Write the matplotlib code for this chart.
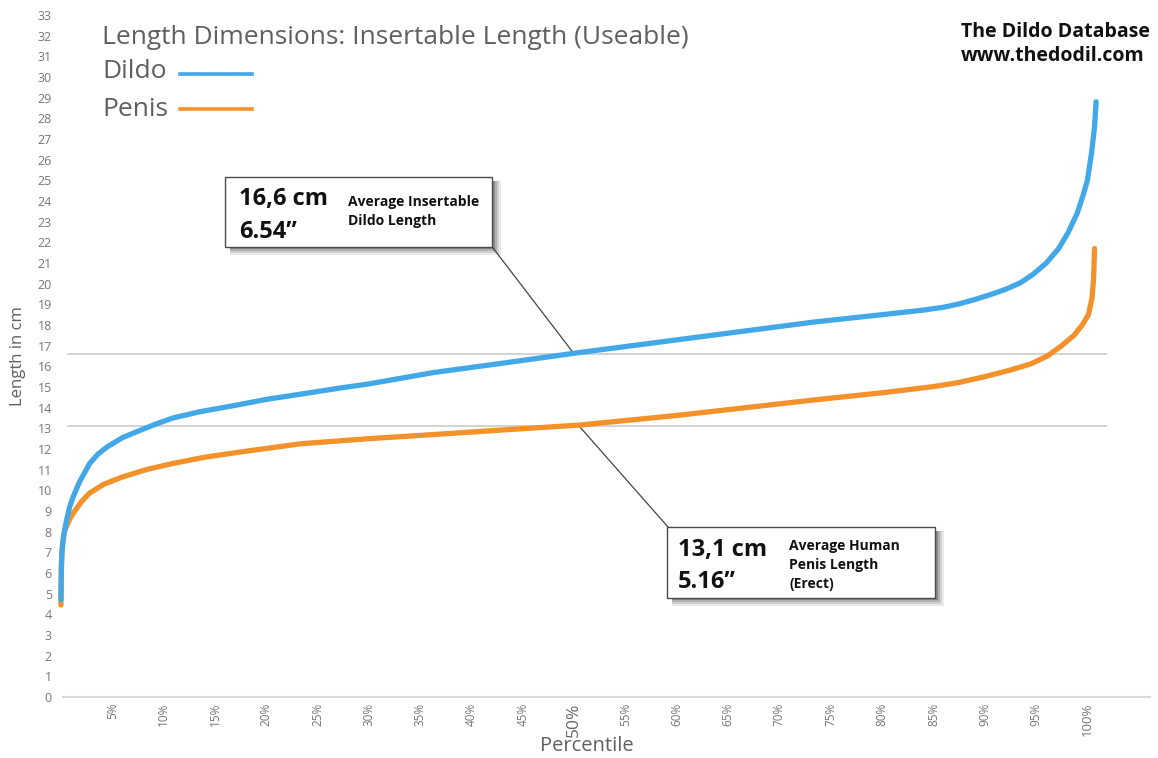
import matplotlib.pyplot as plt
from matplotlib.patches import Rectangle

plt.rcParams['font.family'] = ['Open Sans', 'DejaVu Sans']

# --- data (percentile, length in cm) ---
dildo_pct = [0.0, 0.02, 0.05, 0.1, 0.25, 0.55, 0.85, 1.2, 1.8, 2.8, 3.6, 4.5, 6.0,
             7.7, 9.2, 10.9, 13.5, 17.4, 20.0, 23.3, 27.2, 30.0, 36.3, 43.0, 50.1,
             60.3, 73.3, 80.0, 84.0, 86.0, 87.5, 89.0, 90.5, 92.0, 93.5, 94.7, 96.0,
             97.2, 98.1, 99.0, 99.6, 100.0, 100.4, 100.7, 100.85]
dildo_len = [4.7, 5.5, 6.3, 7.0, 7.8, 8.56, 9.2, 9.7, 10.4, 11.3, 11.75, 12.1, 12.55,
             12.9, 13.2, 13.5, 13.8, 14.15, 14.4, 14.65, 14.95, 15.15, 15.7, 16.15, 16.64,
             17.3, 18.14, 18.5, 18.72, 18.86, 19.02, 19.23, 19.46, 19.72, 20.05, 20.45, 21.0,
             21.7, 22.45, 23.4, 24.3, 25.0, 26.3, 27.6, 28.8]

penis_pct = [0.0, 0.02, 0.05, 0.15, 0.4, 0.8, 1.2, 2.0, 2.8, 4.2, 6.0, 8.3, 10.9,
             14.0, 17.4, 23.3, 30.0, 36.3, 43.0, 50.6, 60.3, 73.3, 80.0, 85.0, 87.5,
             90.0, 92.5, 94.5, 96.1, 97.5, 98.7, 99.5, 100.1, 100.45, 100.6, 100.7]
penis_len = [4.45, 5.6, 6.6, 7.4, 8.1, 8.55, 8.9, 9.45, 9.87, 10.3, 10.65, 11.0, 11.3,
             11.6, 11.85, 12.25, 12.5, 12.7, 12.92, 13.16, 13.64, 14.37, 14.72, 15.02, 15.22,
             15.5, 15.82, 16.12, 16.5, 17.0, 17.5, 18.0, 18.5, 19.3, 20.2, 21.7]

avg_dildo = 16.6
avg_penis = 13.1
x_ticks = list(range(5, 101, 5))
x_labels = [f"{t}%" for t in x_ticks]
y_ticks = list(range(0, 34))

BLUE = '#42a8e8'
ORANGE = '#f3922a'
GREY_TXT = '#5f5f5f'
TICK_TXT = '#767676'

W, H = 1158, 758


def fx(px):
    return px / W


def fy(py):
    return 1 - py / H


fig = plt.figure(figsize=(W / 100, H / 100), dpi=100)
fig.patch.set_facecolor('white')
ax = fig.add_axes([fx(63), fy(697), (1150 - 63) / W, (697 - 15) / H])
ax.set_xlim(0.2, 106.1)
ax.set_ylim(0, 33)

# reference lines for averages
ax.plot([0.7, 101.8], [avg_dildo, avg_dildo], color='#cfcfcf', lw=1.3, zorder=1)
ax.plot([0.7, 101.8], [avg_penis, avg_penis], color='#cfcfcf', lw=1.3, zorder=1)

ax.plot(penis_pct, penis_len, color=ORANGE, lw=3.8, solid_capstyle='round',
        solid_joinstyle='round', clip_on=False, zorder=3)
ax.plot(dildo_pct, dildo_len, color=BLUE, lw=3.8, solid_capstyle='round',
        solid_joinstyle='round', clip_on=False, zorder=4)

for s in ['left', 'top', 'right']:
    ax.spines[s].set_visible(False)
ax.spines['bottom'].set_color('#d9d9d9')
ax.spines['bottom'].set_linewidth(1.5)

ax.set_yticks(y_ticks)
ax.set_yticklabels([str(v) for v in y_ticks])
ax.tick_params(axis='y', length=0, pad=8, labelsize=9, labelcolor=TICK_TXT)
ax.set_xticks(x_ticks)
ax.set_xticklabels(x_labels, rotation=90)
ax.tick_params(axis='x', length=0, pad=4, labelsize=8.5, labelcolor=TICK_TXT)
for lab in ax.get_xticklabels():
    if lab.get_text() == '50%':
        lab.set_fontsize(12.5)
        lab.set_color('#666666')
    elif lab.get_text() == '100%':
        lab.set_fontsize(9.5)

fig.text(fx(587), fy(746), 'Percentile', fontsize=14.5, color=GREY_TXT,
         ha='center', va='center')
fig.text(fx(18), fy(356), 'Length in cm', fontsize=12, color=GREY_TXT,
         ha='center', va='center', rotation=90)

# title and hand-made legend
fig.text(fx(102), fy(37), 'Length Dimensions: Insertable Length (Useable)',
         fontsize=19, color=GREY_TXT, ha='left', va='center')
fig.text(fx(102), fy(72), 'Dildo', fontsize=19, color=GREY_TXT, ha='left', va='center')
fig.text(fx(102), fy(109), 'Penis', fontsize=19, color=GREY_TXT, ha='left', va='center')
fig.lines.append(plt.Line2D([fx(180), fx(252)], [fy(74), fy(74)], color=BLUE, lw=2.6,
                            transform=fig.transFigure))
fig.lines.append(plt.Line2D([fx(180), fx(252)], [fy(109), fy(109)], color=ORANGE, lw=2.6,
                            transform=fig.transFigure))

fig.text(fx(961), fy(32), 'The Dildo Database', fontsize=14, fontweight='bold',
         color='#111111', ha='left', va='center')
fig.text(fx(961), fy(56), 'www.thedodil.com', fontsize=14, fontweight='bold',
         color='#111111', ha='left', va='center')


def callout(x0, y0, x1, y1):
    # soft shadow then white box
    for i, a in enumerate([0.10, 0.14, 0.20, 0.30]):
        off = 6 - i
        grow = 3 - i
        fig.patches.append(Rectangle((fx(x0 + off - grow + 2), fy(y1 + off + grow - 1)),
                                     (x1 - x0 + 2 * grow - 2) / W, (y1 - y0 + 2 * grow - 2) / H,
                                     transform=fig.transFigure, facecolor='#333333',
                                     edgecolor='none', alpha=a, zorder=5))
    fig.patches.append(Rectangle((fx(x0), fy(y1)), (x1 - x0) / W, (y1 - y0) / H,
                                 transform=fig.transFigure, facecolor='white',
                                 edgecolor='#4a4a4a', lw=1.0, zorder=6))


callout(225, 177, 492, 247)
callout(667, 527, 935, 598)

fig.text(fx(239), fy(199), '16,6 cm', fontsize=17, fontweight='bold', color='#111111',
         ha='left', va='center', zorder=7)
fig.text(fx(239), fy(232), '6.54\u201d', fontsize=17, fontweight='bold', color='#111111',
         ha='left', va='center', zorder=7)
fig.text(fx(348), fy(202), 'Average Insertable', fontsize=10, fontweight='bold',
         color='#111111', ha='left', va='center', zorder=7)
fig.text(fx(348), fy(221), 'Dildo Length', fontsize=10, fontweight='bold',
         color='#111111', ha='left', va='center', zorder=7)

fig.text(fx(678), fy(550), '13,1 cm', fontsize=17, fontweight='bold', color='#111111',
         ha='left', va='center', zorder=7)
fig.text(fx(678), fy(582), '5.16\u201d', fontsize=17, fontweight='bold', color='#111111',
         ha='left', va='center', zorder=7)
fig.text(fx(789), fy(546), 'Average Human', fontsize=10, fontweight='bold',
         color='#111111', ha='left', va='center', zorder=7)
fig.text(fx(789), fy(565), 'Penis Length', fontsize=10, fontweight='bold',
         color='#111111', ha='left', va='center', zorder=7)
fig.text(fx(789), fy(584), '(Erect)', fontsize=10, fontweight='bold',
         color='#111111', ha='left', va='center', zorder=7)

# connector lines from the boxes to the 50th percentile points
ax.annotate('', xy=(50, avg_dildo), xycoords='data',
            xytext=(fx(493), fy(248)), textcoords='figure fraction',
            arrowprops=dict(arrowstyle='-', color='#444444', lw=0.9,
                            shrinkA=0, shrinkB=0), zorder=2)
ax.annotate('', xy=(50.5, avg_penis), xycoords='data',
            xytext=(fx(668), fy(527)), textcoords='figure fraction',
            arrowprops=dict(arrowstyle='-', color='#444444', lw=0.9,
                            shrinkA=0, shrinkB=0), zorder=2)

plt.savefig('out.png', dpi=100, facecolor='white')
plt.close(fig)
